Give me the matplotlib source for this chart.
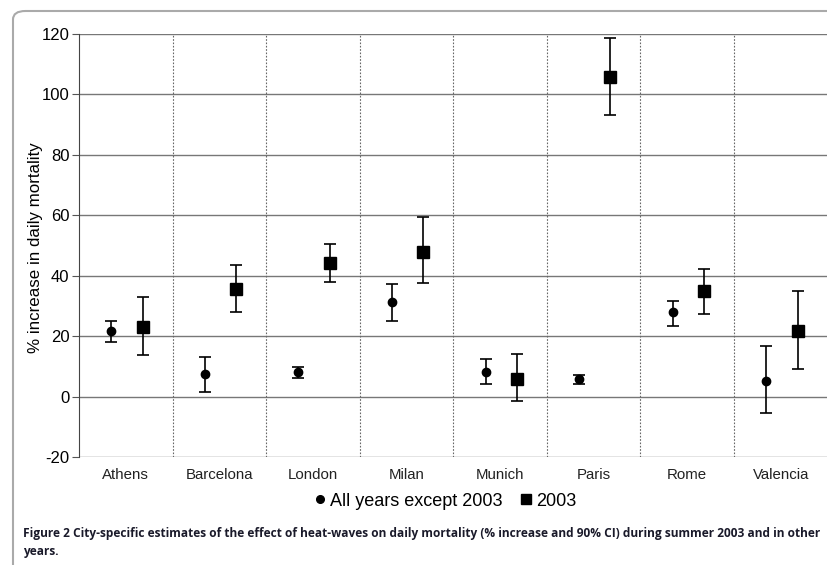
import matplotlib.pyplot as plt
from matplotlib.patches import FancyBboxPatch
from matplotlib.lines import Line2D
import numpy as np

# city-specific estimates (% increase, 90% CI)
cities = ['Athens', 'Barcelona', 'London', 'Milan', 'Munich', 'Paris', 'Rome', 'Valencia']

other_est = [21.7, 7.4, 8.3, 31.3, 8.3, 5.7, 27.9, 5.3]
other_lo = [18.1, 1.4, 6.3, 25.0, 4.1, 4.1, 23.4, -5.5]
other_hi = [25.0, 13.2, 9.8, 37.4, 12.3, 7.1, 31.7, 16.8]

y2003_est = [23.1, 35.7, 44.1, 48.0, 6.0, 105.8, 34.9, 21.7]
y2003_lo = [13.8, 28.1, 37.8, 37.5, -1.6, 93.2, 27.3, 9.2]
y2003_hi = [33.0, 43.5, 50.4, 59.6, 14.1, 118.6, 42.2, 35.1]

yticks = [-20, 0, 20, 40, 60, 80, 100, 120]

plt.rcParams['font.family'] = ['Liberation Sans', 'DejaVu Sans']
plt.rcParams['axes.unicode_minus'] = False

fig = plt.figure(figsize=(8.28, 5.65), dpi=100)
ax = fig.add_axes([0.0954, 0.191, 0.904, 0.7488])

x = np.arange(len(cities))
oe = np.array(other_est)
ye = np.array(y2003_est)

ax.errorbar(x - 0.155, oe, yerr=[oe - np.array(other_lo), np.array(other_hi) - oe],
            fmt='o', color='black', ms=6, elinewidth=1.2, capsize=4.5, capthick=1.2,
            zorder=3)
ax.errorbar(x + 0.18, ye, yerr=[ye - np.array(y2003_lo), np.array(y2003_hi) - ye],
            fmt='s', color='black', ms=8, elinewidth=1.2, capsize=4.5, capthick=1.2,
            zorder=3)

ax.set_xlim(-0.5, len(cities) - 0.5)
ax.set_ylim(-20, 120)
ax.set_yticks(yticks)
ax.set_xticks(x)
ax.set_xticklabels(cities, fontsize=10.8, color='#222222')
ax.tick_params(axis='x', length=0, pad=8)
ax.tick_params(axis='y', length=5, width=0.8, color='#555555', labelsize=12, pad=2)

# grid: solid horizontal, dotted vertical separators
for v in yticks:
    ax.axhline(v, color='#777777', lw=1.0, zorder=1)
for b in np.arange(0.5, len(cities) - 0.5, 1):
    ax.axvline(b, color='#666666', lw=0.8, ls=(0, (1.5, 1.5)), zorder=1)

for s in ['top', 'right', 'bottom']:
    ax.spines[s].set_visible(False)
ax.spines['left'].set_color('#444444')

ax.set_ylabel('% increase in daily mortality', fontsize=12.2)
ax.yaxis.set_label_coords(-0.048, 0.495)

handles = [Line2D([], [], marker='o', color='black', ls='none', ms=5.5),
           Line2D([], [], marker='s', color='black', ls='none', ms=7.5)]
fig.legend(handles, ['All years except 2003', '2003'], loc='center',
           bbox_to_anchor=(0.538, 0.113), ncol=2, frameon=False, fontsize=13,
           handlelength=0.6, handletextpad=0.25, columnspacing=1.0)

# outer rounded frame
fig.patches.append(FancyBboxPatch((13 / 828, -0.05), 1.0, 1.05 - 11 / 565,
                                  boxstyle='round,pad=0,rounding_size=0.015',
                                  transform=fig.transFigure, fill=False,
                                  edgecolor='#aaaaaa', lw=1.5, clip_on=False))

cap_font = ['Open Sans', 'DejaVu Sans']
fig.text(23 / 828, 1 - 533 / 565,
         'Figure 2 City-specific estimates of the effect of heat-waves on daily mortality '
         '(% increase and 90% CI) during summer 2003 and in other',
         fontsize=8.6, fontweight='bold', color='#1a1a2a', va='center', family=cap_font)
fig.text(23 / 828, 1 - 552 / 565, 'years.', fontsize=8.6, fontweight='bold',
         color='#1a1a2a', va='center', family=cap_font)

fig.savefig('out.png', dpi=100)
